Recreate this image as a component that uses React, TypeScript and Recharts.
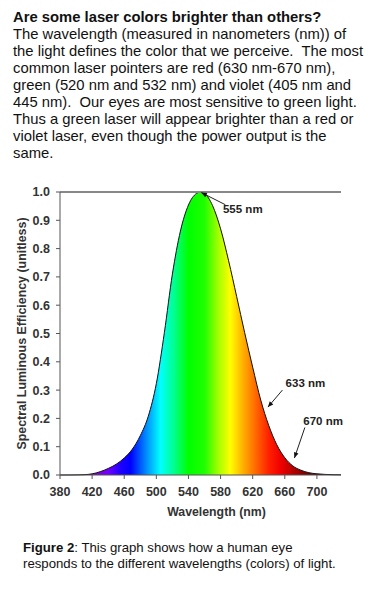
import { Area, ComposedChart, ReferenceLine, XAxis, YAxis } from 'recharts';

// CIE photopic luminous efficiency
const wavelengths = [
  380, 390, 400, 410, 420, 430, 440, 450, 460, 470, 480, 490, 500, 510, 520, 530, 540, 550, 555,
  560, 570, 580, 590, 600, 610, 620, 630, 640, 650, 660, 670, 680, 690, 700, 710, 720, 730,
];
const efficiency = [
  0.0, 0.0001, 0.0004, 0.0012, 0.004, 0.0116, 0.023, 0.038, 0.06, 0.091, 0.139, 0.208, 0.323,
  0.503, 0.71, 0.862, 0.954, 0.995, 1.0, 0.995, 0.952, 0.87, 0.757, 0.631, 0.503, 0.381, 0.265,
  0.175, 0.107, 0.061, 0.032, 0.017, 0.0082, 0.0041, 0.0021, 0.001, 0.0005,
];
const xTicks = [380, 420, 460, 500, 540, 580, 620, 660, 700];
const yTicks = [0, 0.1, 0.2, 0.3, 0.4, 0.5, 0.6, 0.7, 0.8, 0.9, 1.0];

// spectrum colours along the wavelength axis
const spectrumStops: [number, string][] = [
  [380, '#6a00a0'],
  [420, '#8a00d0'],
  [440, '#7000ff'],
  [455, '#2000ff'],
  [468, '#0000ff'],
  [488, '#0090ff'],
  [505, '#00ffff'],
  [522, '#00ff90'],
  [540, '#00ff00'],
  [560, '#20ff00'],
  [578, '#a8ff00'],
  [592, '#ffff00'],
  [608, '#ffb000'],
  [622, '#ff7000'],
  [640, '#ff2000'],
  [655, '#f00000'],
  [672, '#b00000'],
  [695, '#600000'],
  [730, '#300000'],
];

const annotations = [
  { label: '555 nm', from: [586, 0.955], to: [556, 0.998], text: [583, 0.94] },
  { label: '633 nm', from: [657, 0.3], to: [639, 0.24], text: [661, 0.325] },
  { label: '670 nm', from: [685, 0.168], to: [672, 0.06], text: [683, 0.19] },
];

const data = wavelengths.map((w, i) => ({ w, v: efficiency[i] }));
const font = '"Liberation Sans", Arial, sans-serif';
const xMin = 380;
const xMax = 730;

const paragraph = [
  'The wavelength (measured in nanometers (nm)) of',
  'the light defines the color that we perceive.  The most',
  'common laser pointers are red (630 nm-670 nm),',
  'green (520 nm and 532 nm) and violet (405 nm and',
  '445 nm).  Our eyes are most sensitive to green light.',
  'Thus a green laser will appear brighter than a red or',
  'violet laser, even though the power output is the',
  'same.',
];

function Arrow(props: any) {
  const { x1, y1, x2, y2, label, textX, textY } = props;
  const a = Math.atan2(y2 - y1, x2 - x1);
  const len = 6;
  const p1 = [x2 - len * Math.cos(a - 0.4), y2 - len * Math.sin(a - 0.4)];
  const p2 = [x2 - len * Math.cos(a + 0.4), y2 - len * Math.sin(a + 0.4)];
  return (
    <g>
      <line x1={x1} y1={y1} x2={x2} y2={y2} stroke="#222" strokeWidth={1} />
      <polygon points={`${x2},${y2} ${p1[0]},${p1[1]} ${p2[0]},${p2[1]}`} fill="#111" />
      <text x={textX} y={textY} dy="0.35em" fontFamily={font} fontWeight="bold" fontSize={11.5} fill="#222">
        {label}
      </text>
    </g>
  );
}

export default function App() {
  return (
    <div style={{ position: 'relative', width: 360, height: 575, fontFamily: font, color: '#111' }}>
      <div style={{ position: 'absolute', left: 5, top: 1, fontSize: 14.8, lineHeight: '17px', whiteSpace: 'nowrap' }}>
        <div style={{ fontWeight: 'bold' }}>Are some laser colors brighter than others?</div>
        {paragraph.map((line) => (
          <div key={line} style={{ whiteSpace: 'pre' }}>
            {line}
          </div>
        ))}
      </div>

      <div style={{ position: 'absolute', left: -8, top: 172 }}>
        <ComposedChart width={376} height={350} data={data} margin={{ top: 12, right: 35, bottom: 15, left: 0 }}>
          <defs>
            <linearGradient id="spectrum" x1="0" y1="0" x2="1" y2="0">
              {spectrumStops.map(([w, c]) => (
                <stop key={w} offset={(w - xMin) / (xMax - xMin)} stopColor={c} />
              ))}
            </linearGradient>
          </defs>
          <XAxis
            dataKey="w"
            type="number"
            domain={[xMin, xMax]}
            ticks={xTicks}
            interval={0}
            height={40}
            tickSize={4}
            tickMargin={8}
            stroke="#555"
            tick={{ fontSize: 12.5, fontWeight: 'bold', fill: '#333', fontFamily: font }}
            label={{
              value: 'Wavelength (nm)',
              position: 'insideBottom',
              offset: -1,
              dx: 16,
              fontSize: 12.3,
              fontWeight: 'bold',
              fill: '#333',
              fontFamily: font,
            }}
          />
          <YAxis
            type="number"
            domain={[0, 1]}
            ticks={yTicks}
            interval={0}
            width={60}
            tickSize={4}
            tickMargin={6}
            stroke="#555"
            tickFormatter={(v: number) => v.toFixed(1)}
            tick={{ fontSize: 12.5, fontWeight: 'bold', fill: '#333', fontFamily: font }}
            label={({ viewBox }: any) => (
              <text
                x={viewBox.x + 22}
                y={viewBox.y + viewBox.height / 2}
                transform={`rotate(-90, ${viewBox.x + 22}, ${viewBox.y + viewBox.height / 2})`}
                textAnchor="middle"
                dy="0.35em"
                fontSize={12.4}
                fontWeight="bold"
                fill="#333"
                fontFamily={font}
              >
                Spectral Luminous Efficiency (unitless)
              </text>
            )}
          />
          <ReferenceLine y={1} stroke="#888" strokeWidth={2} />
          <Area
            type="monotone"
            dataKey="v"
            fill="url(#spectrum)"
            fillOpacity={1}
            stroke="#111"
            strokeWidth={1}
            isAnimationActive={false}
            dot={false}
            activeDot={false}
          />
          {annotations.map((a) => (
            <ReferenceLine
              key={a.label}
              segment={[
                { x: a.from[0], y: a.from[1] },
                { x: a.to[0], y: a.to[1] },
              ]}
              ifOverflow="visible"
              shape={(p: any) => {
                const sx = (p.x2 - p.x1) / (a.to[0] - a.from[0]);
                const sy = (p.y2 - p.y1) / (a.to[1] - a.from[1]);
                return (
                  <Arrow
                    {...p}
                    label={a.label}
                    textX={p.x1 + (a.text[0] - a.from[0]) * sx}
                    textY={p.y1 + (a.text[1] - a.from[1]) * sy}
                  />
                );
              }}
            />
          ))}
        </ComposedChart>
      </div>

      <div style={{ position: 'absolute', left: 15, top: 532, fontSize: 13.2, lineHeight: '16px', whiteSpace: 'nowrap' }}>
        <div>
          <b>Figure 2</b>: This graph shows how a human eye
        </div>
        <div>responds to the different wavelengths (colors) of light.</div>
      </div>
    </div>
  );
}
